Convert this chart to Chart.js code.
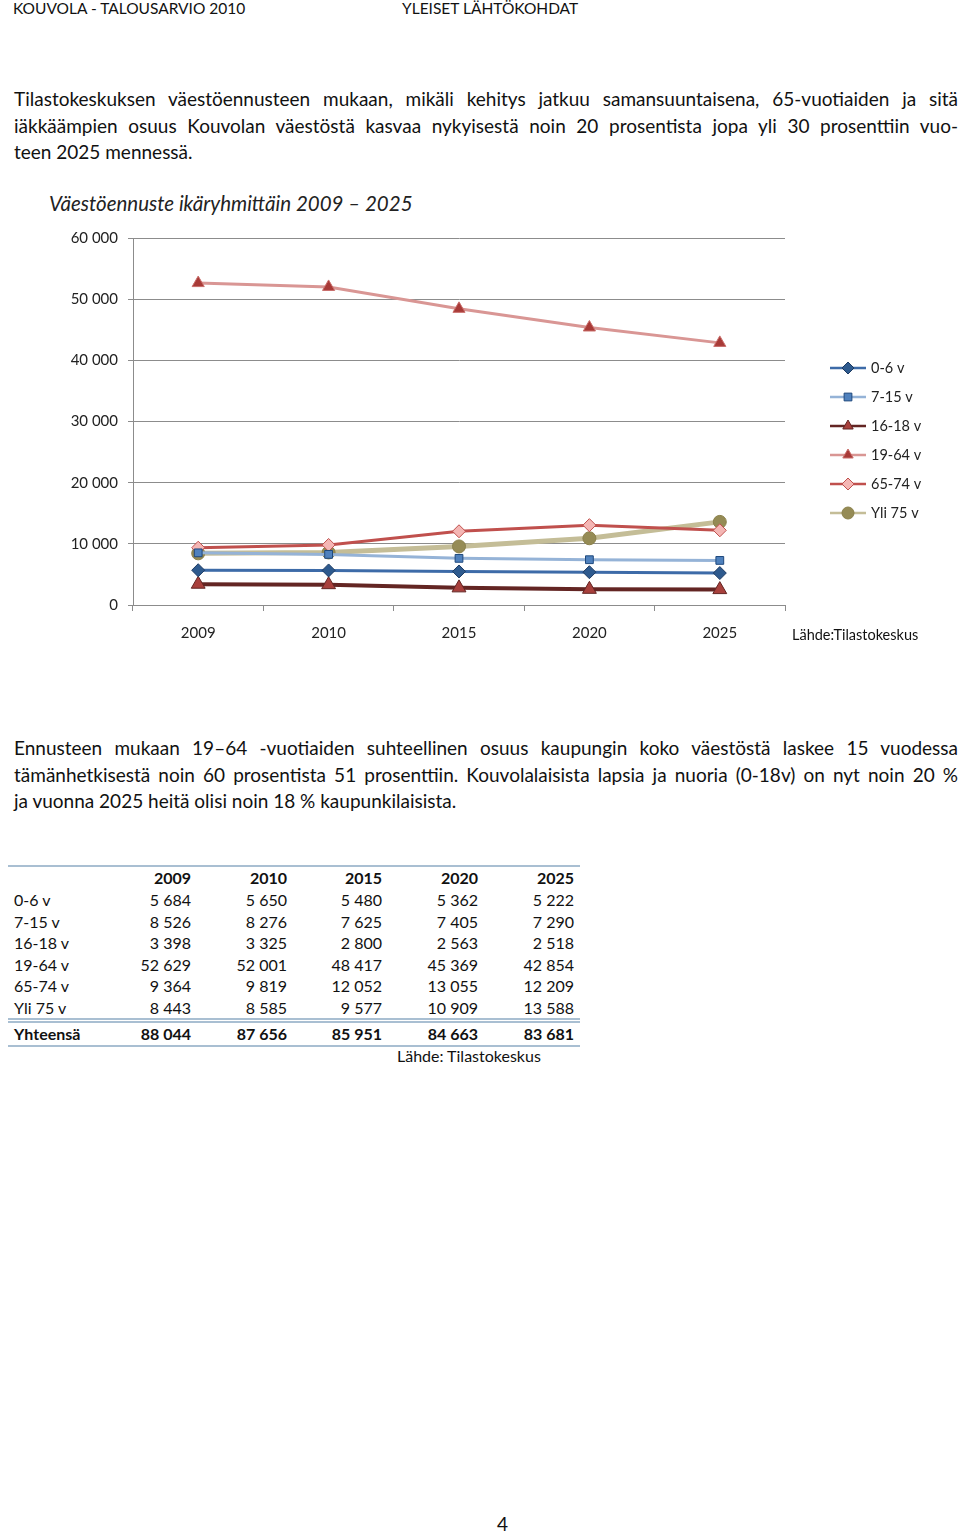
<!DOCTYPE html>
<html>
<head>
<meta charset="utf-8">
<script src="https://cdn.jsdelivr.net/npm/chart.js@4.4.1/dist/chart.umd.min.js"></script>
<style>
  html, body { margin: 0; padding: 0; background: #fff; }
  body { width: 960px; height: 1535px; position: relative; font-family: Lato, "Open Sans", sans-serif; color: #111; overflow: hidden; }
  .abs { position: absolute; white-space: nowrap; }
  .hdr { font-size: 15.5px; top: -1px; }
  .para { position: absolute; left: 14px; width: 944px; font-size: 19px; }
  .para div { height: 26.5px; line-height: 26.5px; text-align: justify; text-align-last: justify; white-space: nowrap; }
  .para div.last { text-align-last: left; }
  #chartWrap { position: absolute; left: 0; top: 215px; width: 960px; height: 440px; }
  .title { left: 49px; top: 191px; font-size: 20.5px; font-style: italic; color: #222; }
  .src { font-size: 14.5px; }
  .tcell { position: absolute; font-size: 16px; line-height: 20px; height: 20px; white-space: nowrap; }
  .hline { position: absolute; left: 8px; width: 572px; background: #a9bfd2; }
</style>
</head>
<body>
<div class="abs hdr" style="left:13px;">KOUVOLA - TALOUSARVIO 2010</div>
<div class="abs hdr" style="left:402px;">YLEISET LÄHTÖKOHDAT</div>

<div class="para" style="top:86px;">
  <div>Tilastokeskuksen väestöennusteen mukaan, mikäli kehitys jatkuu samansuuntaisena, 65-vuotiaiden ja sitä</div>
  <div>iäkkäämpien osuus Kouvolan väestöstä kasvaa nykyisestä noin 20 prosentista jopa yli 30 prosenttiin vuo-</div>
  <div class="last">teen 2025 mennessä.</div>
</div>

<div class="abs title">Väestöennuste ikäryhmittäin 2009 – 2025</div>
<div id="chartWrap"><canvas id="popChart"></canvas></div>
<div class="abs src" style="left:792px; top:626px;">Lähde:Tilastokeskus</div>

<div class="para" style="top:735px;">
  <div>Ennusteen mukaan 19–64 -vuotiaiden suhteellinen osuus kaupungin koko väestöstä laskee 15 vuodessa</div>
  <div>tämänhetkisestä noin 60 prosentista 51 prosenttiin. Kouvolalaisista lapsia ja nuoria (0-18v) on nyt noin 20 %</div>
  <div class="last">ja vuonna 2025 heitä olisi noin 18 % kaupunkilaisista.</div>
</div>

<div id="table"></div>
<div class="abs" style="left:397px; top:1046px; font-size:16px;">Lähde: Tilastokeskus</div>
<div class="abs" style="left:497px; top:1512px; font-size:19px;">4</div>

<script>
const years = ["2009", "2010", "2015", "2020", "2025"];
const groupLabels = ["0-6 v", "7-15 v", "16-18 v", "19-64 v", "65-74 v", "Yli 75 v"];
const age0to6 = [5684, 5650, 5480, 5362, 5222];
const age7to15 = [8526, 8276, 7625, 7405, 7290];
const age16to18 = [3398, 3325, 2800, 2563, 2518];
const age19to64 = [52629, 52001, 48417, 45369, 42854];
const age65to74 = [9364, 9819, 12052, 13055, 12209];
const age75plus = [8443, 8585, 9577, 10909, 13588];
const totals = [88044, 87656, 85951, 84663, 83681];
const yTicks = [0, 10000, 20000, 30000, 40000, 50000, 60000];

const seriesValues = [age0to6, age7to15, age16to18, age19to64, age65to74, age75plus];

function fmt(n) {
  return String(n).replace(/\B(?=(\d{3})+(?!\d))/g, " ");
}

const styles = [
  { line: "#3d6ba8", fill: "#2e5a8e", border: "#1d3b63", point: "rectRot", r: 6.5, w: 3 },
  { line: "#95b3d7", fill: "#4f81bd", border: "#1f497d", point: "rect", r: 5.5, w: 3 },
  { line: "#632523", fill: "#a8403c", border: "#632523", point: "triangle", r: 8, w: 4 },
  { line: "#d99694", fill: "#a83a37", border: "#c96d6a", point: "triangle", r: 7, w: 3 },
  { line: "#c0504d", fill: "#f4b6b4", border: "#c0504d", point: "rectRot", r: 6.5, w: 3 },
  { line: "#c4bd97", fill: "#958b55", border: "#8a804a", point: "circle", r: 6.5, w: 5 }
];

// legend to the right of the plot, line with marker through it
const sideLegend = {
  id: "sideLegend",
  afterDraw(chart) {
    const c = chart.ctx;
    chart.data.datasets.forEach((ds, i) => {
      const y = 153 + i * 29;
      c.save();
      c.strokeStyle = ds.borderColor;
      c.lineWidth = 2.5;
      c.beginPath();
      c.moveTo(830, y);
      c.lineTo(866, y);
      c.stroke();
      c.fillStyle = ds.pointBackgroundColor;
      c.strokeStyle = ds.pointBorderColor;
      c.lineWidth = 1;
      Chart.helpers.drawPoint(c, { pointStyle: ds.pointStyle, radius: Math.min(ds.pointRadius, 6), borderWidth: 1 }, 848, y);
      c.fillStyle = "#222";
      c.font = "14.5px Lato, sans-serif";
      c.textBaseline = "middle";
      c.fillText(ds.label, 871, y);
      c.restore();
    });
  }
};

new Chart(document.getElementById("popChart"), {
  type: "line",
  data: {
    labels: years,
    datasets: seriesValues.map((vals, i) => ({
      label: groupLabels[i],
      data: vals,
      borderColor: styles[i].line,
      borderWidth: styles[i].w,
      pointStyle: styles[i].point,
      pointRadius: styles[i].r,
      pointHoverRadius: styles[i].r,
      pointBackgroundColor: styles[i].fill,
      pointBorderColor: styles[i].border,
      pointBorderWidth: 1,
      tension: 0
    }))
  },
  options: {
    responsive: true,
    maintainAspectRatio: false,
    animation: false,
    layout: { padding: { left: 41, right: 175, top: 23, bottom: 0 } },
    plugins: { legend: { display: false }, tooltip: { enabled: false } },
    scales: {
      x: {
        offset: true,
        grid: { offset: true, drawOnChartArea: false, drawTicks: true, tickLength: 6, color: "#8c8c8c" },
        border: { color: "#8c8c8c", width: 1 },
        ticks: { color: "#222", font: { family: "Lato", size: 15 }, padding: 13 },
        afterFit(scale) { scale.height = 50; }
      },
      y: {
        min: 0,
        max: 60000,
        afterBuildTicks(scale) { scale.ticks = yTicks.map((v) => ({ value: v })); },
        grid: { color: "#8c8c8c", tickLength: 5 },
        border: { color: "#8c8c8c", width: 1 },
        ticks: { color: "#222", font: { family: "Lato", size: 15 }, padding: 10, callback: (v) => fmt(v) },
        afterFit(scale) { scale.width = 92; }
      }
    }
  },
  plugins: [sideLegend]
});

// data table under the chart
const table = document.getElementById("table");
const colRight = [191, 287, 382, 478, 574];
function addCell(text, centerY, opts) {
  const d = document.createElement("div");
  d.className = "tcell";
  d.textContent = text;
  d.style.top = (centerY - 10) + "px";
  if (opts.bold) d.style.fontWeight = "bold";
  if (opts.right !== undefined) {
    d.style.right = (960 - opts.right) + "px";
    d.style.textAlign = "right";
  } else {
    d.style.left = opts.left + "px";
  }
  table.appendChild(d);
}
function addLine(top, h) {
  const d = document.createElement("div");
  d.className = "hline";
  d.style.top = top + "px";
  d.style.height = h + "px";
  table.appendChild(d);
}
addLine(865, 2);
years.forEach((y, j) => addCell(y, 878, { bold: true, right: colRight[j] }));
seriesValues.forEach((vals, i) => {
  const cy = 900 + i * 21.6;
  addCell(groupLabels[i], cy, { left: 14 });
  vals.forEach((v, j) => addCell(fmt(v), cy, { right: colRight[j] }));
});
addLine(1018, 2);
addLine(1021, 2);
addCell("Yhteensä", 1034, { left: 14, bold: true });
totals.forEach((v, j) => addCell(fmt(v), 1034, { bold: true, right: colRight[j] }));
addLine(1045, 1.5);
</script>
</body>
</html>
